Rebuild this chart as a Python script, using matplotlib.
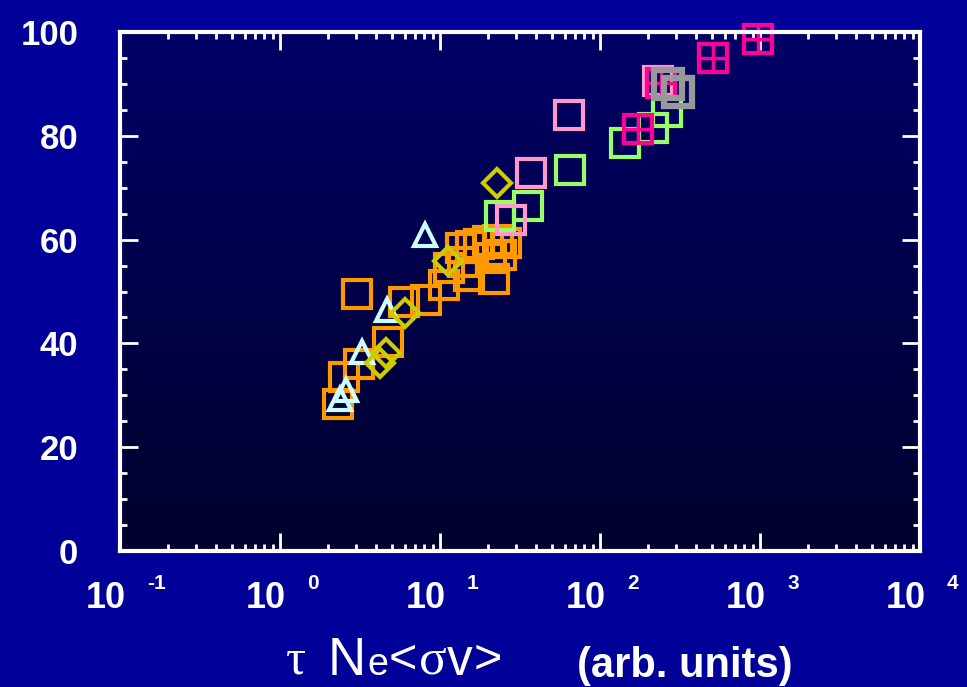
import numpy as np
import matplotlib
matplotlib.use("Agg")
import matplotlib.pyplot as plt
from matplotlib.colors import LinearSegmentedColormap
from matplotlib.ticker import LogLocator, MultipleLocator, NullFormatter
from matplotlib.transforms import offset_copy

# ----- data (x in arb. units, y in %) -----
orange_x = [2.32, 2.50, 3.10, 4.71, 3.05, 5.93, 8.15, 10.6, 15.1, 21.7,
            11.4, 13.9, 13.5, 15.6, 17.5, 19.9, 23.0, 25.8, 20.8, 24.0]
orange_y = [28.3, 33.5, 36.0, 40.3, 49.5, 48.0, 48.4, 51.3, 53.0, 52.4,
            54.5, 55.7, 58.4, 58.8, 59.2, 59.7, 59.9, 59.3, 56.5, 57.0]

green_x = [23.7, 35.5, 64.9, 143, 214, 262]
green_y = [64.5, 66.5, 73.4, 78.6, 81.5, 84.6]

pink_x = [63.6, 36.8, 27.8, 230]
pink_y = [84.0, 72.8, 63.8, 90.6]

tri_x = [2.37, 2.59, 3.25, 4.67, 8.06]
tri_y = [29.3, 31.0, 38.3, 46.5, 60.9]

dia_x = [11.2, 6.04, 4.60, 4.22, 22.7]
dia_y = [55.9, 45.9, 38.2, 36.2, 70.9]

cross_x = [173, 512, 972, 240]
cross_y = [81.4, 95.0, 98.6, 90.2]

gray_x = [266, 307]
gray_y = [90.0, 88.4]

decades = [-1, 0, 1, 2, 3, 4]
yticks = [0, 20, 40, 60, 80, 100]

FIG_BG = "#000099"
SANS = ["Liberation Sans", "DejaVu Sans"]
SERIF = ["Liberation Serif", "DejaVu Serif"]

W, H = 967, 687
fig = plt.figure(figsize=(W / 100, H / 100), dpi=100, facecolor=FIG_BG)
rect = [120 / W, 1 - 551 / H, 800 / W, 519 / H]

# dark vertical gradient behind the data
bg = fig.add_axes(rect, zorder=0)
cmap = LinearSegmentedColormap.from_list("plotbg", ["#00002C", "#000066"])
bg.imshow(np.linspace(0, 1, 256).reshape(-1, 1), extent=[0, 1, 0, 1],
          origin="lower", aspect="auto", cmap=cmap)
bg.axis("off")

ax = fig.add_axes(rect, zorder=1)
ax.patch.set_visible(False)
ax.set_xscale("log")

sq = dict(marker="s", ms=20, mew=3, mfc="none", ls="none", clip_on=False)
ax.plot(orange_x, orange_y, mec="#FF9900", **sq)
ax.plot(green_x, green_y, mec="#99FF66", **sq)
ax.plot(pink_x, pink_y, mec="#FF99CC", **sq)
ax.plot(tri_x, tri_y, marker="^", ms=16, mew=3, mfc="none",
        mec="#CCFFFF", ls="none")
ax.plot(dia_x, dia_y, marker="D", ms=14, mew=3, mfc="none",
        mec="#CCCC00", ls="none")
ax.plot(cross_x, cross_y, mec="#FF0099", **sq)
ax.plot(cross_x, cross_y, marker="+", ms=20, mew=2.5, mec="#FF0099",
        ls="none", clip_on=False)
ax.plot(gray_x, gray_y, mec="#999999", **dict(sq, mew=4.5))

ax.set_xlim(0.1, 1e4)
ax.set_ylim(0, 100)

# frame and ticks
for s in ax.spines.values():
    s.set_color("white")
    s.set_linewidth(3)
    s.set_zorder(5)
ax.xaxis.set_major_locator(LogLocator(base=10, numticks=10))
ax.xaxis.set_minor_locator(LogLocator(base=10, subs=np.arange(2, 10), numticks=20))
ax.xaxis.set_major_formatter(NullFormatter())
ax.xaxis.set_minor_formatter(NullFormatter())
ax.set_yticks(yticks)
ax.yaxis.set_minor_locator(MultipleLocator(5))
ax.tick_params(which="both", direction="in", top=True, right=True,
               color="white", width=2)
ax.tick_params(which="major", length=13)
ax.tick_params(which="minor", length=5)
ax.tick_params(axis="y", which="major", pad=30, labelsize=25,
               labelcolor="white")
for lab in ax.get_yticklabels():
    lab.set_fontweight("bold")
    lab.set_family(SANS)

# decade labels written as "10" with a raised exponent
xtrans = ax.get_xaxis_transform()
for k in decades:
    base_t = offset_copy(xtrans, fig=fig, x=6, y=-57, units="dots")
    exp_t = offset_copy(xtrans, fig=fig, x=27, y=-38, units="dots")
    ax.text(10.0 ** k, 0, "10", transform=base_t, ha="right", va="baseline",
            color="white", fontsize=26, fontweight="bold", family=SANS)
    ax.text(10.0 ** k, 0, str(k), transform=exp_t, ha="left", va="baseline",
            color="white", fontsize=15, fontweight="bold", family=SANS)

# axis title pieces
def ftext(px, py, s, **kw):
    fig.text(px / W, 1 - py / H, s, color="white", ha="left", va="baseline", **kw)

ftext(286, 674, "\u03c4", fontsize=36, family=SERIF)
ftext(328, 675, "N", fontsize=38, family=SANS)
ftext(367, 675, "e", fontsize=27, family=SANS)
ftext(389, 673, "<", fontsize=35, family=SANS)
ftext(419, 674, "\u03c3", fontsize=37, family=SERIF)
ftext(447, 675, "v", fontsize=37, family=SANS)
ftext(474, 673, ">", fontsize=35, family=SANS)
ftext(577, 677, "(arb. units)", fontsize=30, fontweight="bold", family=SANS)

fig.savefig("out.png", dpi=100, facecolor=FIG_BG)
